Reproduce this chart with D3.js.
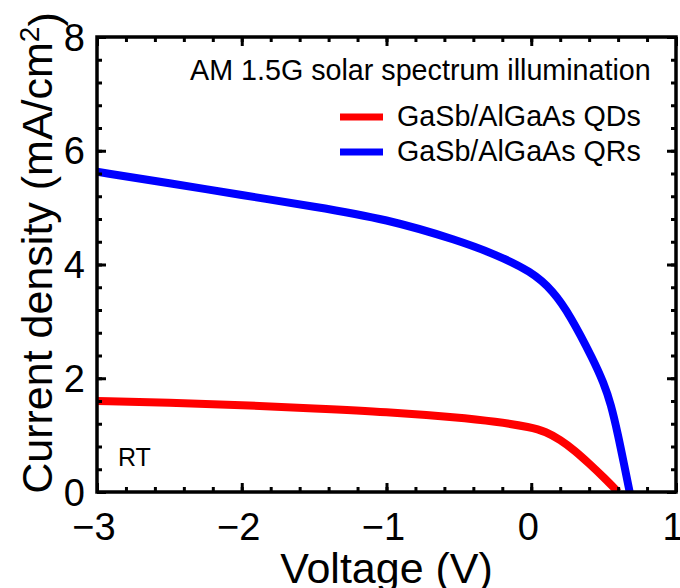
<!DOCTYPE html>
<html>
<head>
<meta charset="utf-8">
<script src="https://cdn.jsdelivr.net/npm/d3@7"></script>
<style>
  body { margin: 0; background: #fff; }
  svg text { font-family: "Liberation Sans", Arial, sans-serif; fill: #000; }
</style>
</head>
<body>
<svg width="680" height="588"></svg>
<script>
// data
var qdVoltage = [-3, -2.5, -2, -1.5, -1, -0.5, -0.25, 0, 0.1, 0.2, 0.3, 0.4, 0.5, 0.6];
var qdCurrent = [1.60, 1.57, 1.53, 1.47, 1.41, 1.31, 1.24, 1.14, 1.06, 0.92, 0.73, 0.50, 0.26, 0];

var qrVoltage = [-3, -2.5, -2, -1.5, -1, -0.5, -0.25, 0, 0.15, 0.27, 0.43, 0.5, 0.55, 0.6, 0.64, 0.68];
var qrCurrent = [5.63, 5.43, 5.22, 5.02, 4.80, 4.42, 4.18, 3.88, 3.54, 3.10, 2.32, 1.92, 1.55, 1.0, 0.5, 0];

var seriesNames = ["GaSb/AlGaAs QDs", "GaSb/AlGaAs QRs"];
var seriesColors = ["#ff0000", "#0000ff"];

var xMajor = [-3, -2, -1, 0, 1];
var yMajor = [0, 2, 4, 6, 8];

// layout (plot frame edges)
var pLeft = 97, pRight = 676, pTop = 37, pBottom = 492;

var svg = d3.select('svg');

var x = d3.scaleLinear().domain([-3, 1]).range([pLeft, pRight]);
var y = d3.scaleLinear().domain([0, 8]).range([pBottom, pTop]);

var xMinor = d3.range(-3, 1.001, 0.2).map(d => +d.toFixed(1));
var yMinor = d3.range(0, 8.001, 0.4).map(d => +d.toFixed(1));

// clip for curves
svg.append('clipPath').attr('id', 'plot')
  .append('rect')
    .attr('x', pLeft).attr('y', pTop)
    .attr('width', pRight - pLeft).attr('height', pBottom - pTop);

// curves
var line = d3.line()
  .x(d => x(d[0]))
  .y(d => y(d[1]))
  .curve(d3.curveBasis);

var series = [
  d3.zip(qdVoltage, qdCurrent),
  d3.zip(qrVoltage, qrCurrent)
];

svg.append('g')
  .attr('clip-path', 'url(#plot)')
  .selectAll('path')
  .data(series)
  .enter()
  .append('path')
    .attr('d', line)
    .attr('fill', 'none')
    .attr('stroke', (d, i) => seriesColors[i])
    .attr('stroke-width', 8)
    .attr('stroke-linejoin', 'round');

// ticks on all four sides, pointing inward
function tickAxis(axis, values, len, transform) {
  var g = svg.append('g')
    .attr('transform', transform)
    .call(axis.tickValues(values).tickSizeInner(len).tickSizeOuter(0).tickFormat(''));
  g.select('.domain').remove();
  g.selectAll('line').attr('stroke', '#000').attr('stroke-width', 3);
  return g;
}

tickAxis(d3.axisBottom(x), xMinor, -5, 'translate(0,' + pBottom + ')');
tickAxis(d3.axisBottom(x), xMajor, -9, 'translate(0,' + pBottom + ')');
tickAxis(d3.axisTop(x), xMinor, -5, 'translate(0,' + pTop + ')');
tickAxis(d3.axisTop(x), xMajor, -9, 'translate(0,' + pTop + ')');
tickAxis(d3.axisLeft(y), yMinor, -5, 'translate(' + pLeft + ',0)');
tickAxis(d3.axisLeft(y), yMajor, -9, 'translate(' + pLeft + ',0)');
tickAxis(d3.axisRight(y), yMinor, -5, 'translate(' + pRight + ',0)');
tickAxis(d3.axisRight(y), yMajor, -9, 'translate(' + pRight + ',0)');

// frame
svg.append('rect')
  .attr('x', pLeft).attr('y', pTop)
  .attr('width', pRight - pLeft).attr('height', pBottom - pTop)
  .attr('fill', 'none')
  .attr('stroke', '#000')
  .attr('stroke-width', 3.5);

// tick labels
var fmt = d3.format('d');
svg.append('g')
  .selectAll('text')
  .data(xMajor)
  .enter()
  .append('text')
    .attr('x', d => x(d) - 3)
    .attr('y', 540)
    .attr('text-anchor', 'middle')
    .style('font-size', '38px')
    .text(fmt);

svg.append('g')
  .selectAll('text')
  .data(yMajor)
  .enter()
  .append('text')
    .attr('x', pLeft - 12)
    .attr('y', d => y(d))
    .attr('dy', '0.36em')
    .attr('text-anchor', 'end')
    .style('font-size', '38px')
    .text(fmt);

// axis titles
svg.append('text')
  .attr('x', (pLeft + pRight) / 2)
  .attr('y', 583)
  .attr('text-anchor', 'middle')
  .style('font-size', '43px')
  .text('Voltage (V)');

var yTitle = svg.append('text')
  .attr('transform', 'translate(52,253) rotate(-90)')
  .attr('text-anchor', 'middle')
  .style('font-size', '43px');
yTitle.append('tspan').text('Current density (mA/cm');
yTitle.append('tspan').attr('dy', '-0.45em').style('font-size', '28px').text('2');
yTitle.append('tspan').attr('dy', '0.45em').text(')');

// legend
svg.append('text')
  .attr('x', 190)
  .attr('y', 80)
  .style('font-size', '28.7px')
  .text('AM 1.5G solar spectrum illumination');

var legendY = [117, 152];
var legend = svg.append('g')
  .selectAll('g')
  .data(seriesNames)
  .enter()
  .append('g')
    .attr('transform', (d, i) => 'translate(0,' + legendY[i] + ')');

legend.append('line')
  .attr('x1', 340).attr('x2', 383)
  .attr('stroke', (d, i) => seriesColors[i])
  .attr('stroke-width', 7);

legend.append('text')
  .attr('x', 397)
  .attr('y', 9)
  .style('font-size', '28.7px')
  .text(d => d);

svg.append('text')
  .attr('x', 118)
  .attr('y', 466)
  .style('font-size', '25px')
  .text('RT');
</script>
</body>
</html>
